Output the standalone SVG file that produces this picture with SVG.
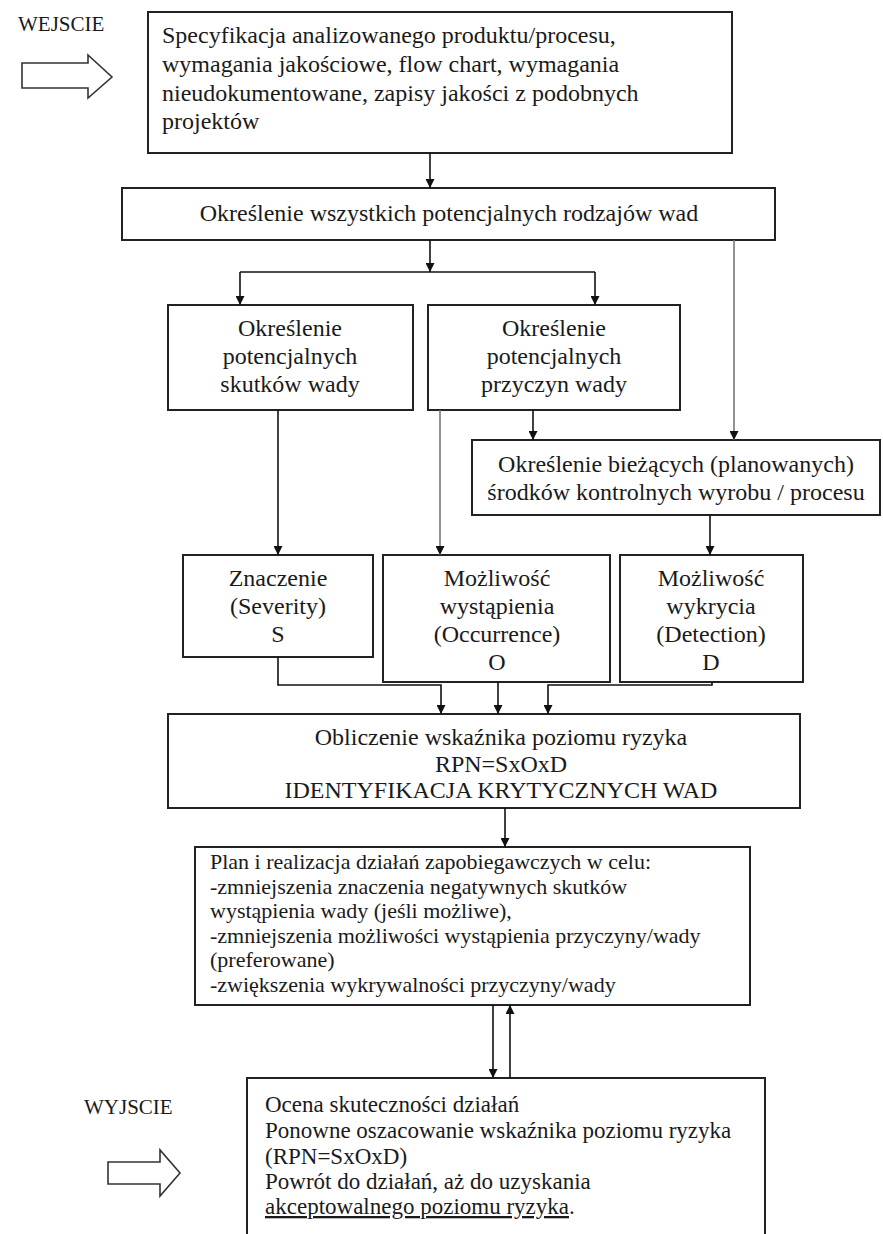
<svg xmlns="http://www.w3.org/2000/svg" width="883" height="1234" viewBox="0 0 883 1234">
  <style>
    .box { fill: #fff; stroke: #222; stroke-width: 2; }
    text { font-family: 'Liberation Serif', 'Times New Roman', serif; font-size: 24px; fill: #1a1a1a; }
    .s22 { font-size: 22px; }
    .s23 { font-size: 23px; }
    .lbl { font-size: 21px; }
    .c { text-anchor: middle; }
    .ln { fill: none; stroke: #111; stroke-width: 1.6; }
    .gray { stroke: #777; }
    .big { fill: #fff; stroke: #333; stroke-width: 1.6; }
  </style>
  <defs>
    <marker id="ah" viewBox="0 0 10 10" refX="10" refY="5" markerWidth="9" markerHeight="9" markerUnits="userSpaceOnUse" orient="auto">
      <path d="M0,0 L10,5 L0,10 z" fill="#111"/>
    </marker>
  </defs>
  <rect width="883" height="1234" fill="#fff"/>

  <!-- input label and block arrow -->
  <g id="wejscie">
    <text class="lbl" x="18" y="31">WEJSCIE</text>
    <path class="big" d="M22,63 H88 V55 L112,77 L88,98 V88 H22 z"/>
  </g>

  <g id="n1">
    <rect class="box" x="148" y="12" width="584" height="141"/>
    <text x="162" y="43">Specyfikacja analizowanego produktu/procesu,</text>
    <text x="162" y="72">wymagania jakościowe, flow chart, wymagania</text>
    <text x="162" y="101">nieudokumentowane, zapisy jakości z podobnych</text>
    <text x="162" y="129">projektów</text>
  </g>

  <g id="n2">
    <rect class="box" x="122" y="188" width="653" height="52"/>
    <text class="c" x="449" y="221">Określenie wszystkich potencjalnych rodzajów wad</text>
  </g>

  <g id="n3">
    <rect class="box" x="168" y="305" width="245" height="105"/>
    <text class="c" x="290" y="336">Określenie</text>
    <text class="c" x="290" y="364">potencjalnych</text>
    <text class="c" x="290" y="392">skutków wady</text>
  </g>

  <g id="n4">
    <rect class="box" x="428" y="305" width="252" height="105"/>
    <text class="c" x="554" y="336">Określenie</text>
    <text class="c" x="554" y="364">potencjalnych</text>
    <text class="c" x="554" y="392">przyczyn wady</text>
  </g>

  <g id="n5">
    <rect class="box" x="472" y="440" width="408" height="75"/>
    <text class="c" x="676" y="472">Określenie bieżących (planowanych)</text>
    <text class="c" x="676" y="500">środków kontrolnych wyrobu / procesu</text>
  </g>

  <g id="n6">
    <rect class="box" x="183" y="555" width="190" height="102"/>
    <text class="c" x="278" y="586">Znaczenie</text>
    <text class="c" x="278" y="614">(Severity)</text>
    <text class="c" x="278" y="642">S</text>
  </g>

  <g id="n7">
    <rect class="box" x="383" y="555" width="227" height="127"/>
    <text class="c" x="497" y="586">Możliwość</text>
    <text class="c" x="497" y="614">wystąpienia</text>
    <text class="c" x="497" y="642">(Occurrence)</text>
    <text class="c" x="497" y="670">O</text>
  </g>

  <g id="n8">
    <rect class="box" x="620" y="555" width="183" height="127"/>
    <text class="c" x="711" y="586">Możliwość</text>
    <text class="c" x="711" y="614">wykrycia</text>
    <text class="c" x="711" y="642">(Detection)</text>
    <text class="c" x="711" y="670">D</text>
  </g>

  <g id="n9">
    <rect class="box" x="168" y="714" width="632" height="94"/>
    <text class="c" x="501" y="745">Obliczenie wskaźnika poziomu ryzyka</text>
    <text class="c" x="501" y="772">RPN=SxOxD</text>
    <text class="c" x="501" y="798">IDENTYFIKACJA KRYTYCZNYCH WAD</text>
  </g>

  <g id="n10">
    <rect class="box" x="195" y="847" width="555" height="158"/>
    <text class="s22" x="210" y="869">Plan i realizacja działań zapobiegawczych w celu:</text>
    <text class="s22" x="210" y="894">-zmniejszenia znaczenia negatywnych skutków</text>
    <text class="s22" x="210" y="918">wystąpienia wady (jeśli możliwe),</text>
    <text class="s22" x="210" y="943">-zmniejszenia możliwości wystąpienia przyczyny/wady</text>
    <text class="s22" x="210" y="967">(preferowane)</text>
    <text class="s22" x="210" y="992">-zwiększenia wykrywalności przyczyny/wady</text>
  </g>

  <g id="n11">
    <rect class="box" x="247" y="1078" width="518" height="170"/>
    <text class="s23" x="265" y="1112">Ocena skuteczności działań</text>
    <text class="s23" x="265" y="1138">Ponowne oszacowanie wskaźnika poziomu ryzyka</text>
    <text class="s23" x="265" y="1164">(RPN=SxOxD)</text>
    <text class="s23" x="265" y="1189">Powrót do działań, aż do uzyskania</text>
    <text class="s23" x="265" y="1214"><tspan text-decoration="underline">akceptowalnego poziomu ryzyka</tspan>.</text>
  </g>

  <!-- output label and block arrow -->
  <g id="wyjscie">
    <text class="lbl" x="84" y="1114">WYJSCIE</text>
    <path class="big" d="M108,1162 H160 V1150 L180,1173 L160,1196 V1184 H108 z"/>
  </g>

  <g id="connectors">
    <path class="ln" d="M430,153 V188" marker-end="url(#ah)"/>
    <path class="ln" d="M430,240 V272" marker-end="url(#ah)"/>
    <path class="ln" d="M240,272 H595"/>
    <path class="ln" d="M240,272 V305" marker-end="url(#ah)"/>
    <path class="ln" d="M595,272 V305" marker-end="url(#ah)"/>
    <path class="ln gray" d="M734,240 V440" marker-end="url(#ah)"/>
    <path class="ln" d="M533,410 V440" marker-end="url(#ah)"/>
    <path class="ln gray" d="M440,410 V555" marker-end="url(#ah)"/>
    <path class="ln" d="M278,410 V555" marker-end="url(#ah)"/>
    <path class="ln" d="M710,515 V555" marker-end="url(#ah)"/>
    <path class="ln" d="M278,657 V685 H441 V714" marker-end="url(#ah)"/>
    <path class="ln" d="M498,682 V714" marker-end="url(#ah)"/>
    <path class="ln" d="M712,682 V685 H548 V714" marker-end="url(#ah)"/>
    <path class="ln" d="M505,808 V847" marker-end="url(#ah)"/>
    <path class="ln" d="M493,1005 V1078" marker-end="url(#ah)"/>
    <path class="ln" d="M510,1078 V1005" marker-end="url(#ah)"/>
  </g>
</svg>
